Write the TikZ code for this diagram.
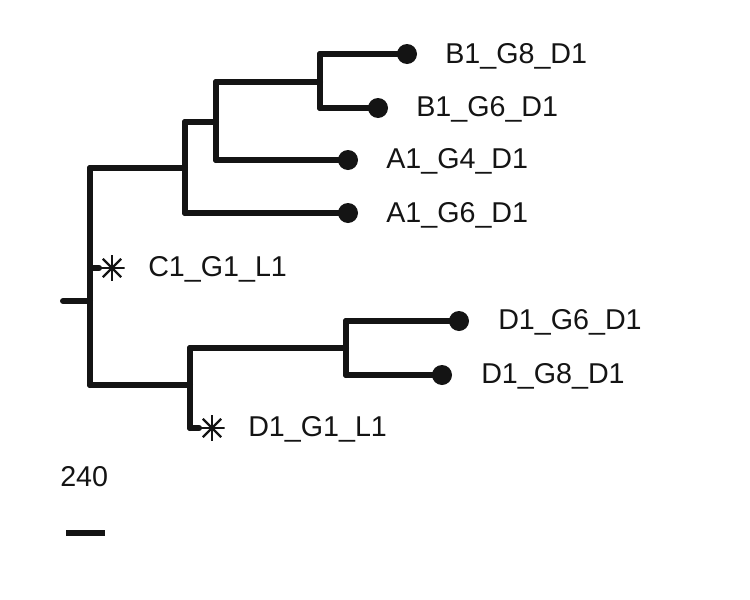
\documentclass[tikz,border=0pt]{standalone}
\usepackage{fontspec}
\setmainfont{Liberation Sans}
\begin{document}
\begin{tikzpicture}[x=0.75pt,y=-0.75pt,
  br/.style={line width=4.5pt,color=black!92,line join=round,line cap=round},
  leaf/.style={circle,fill=black!92,inner sep=0pt,minimum size=15pt},
  lbl/.style={anchor=west,inner sep=0pt,font=\fontsize{21.5pt}{24pt}\selectfont,text=black!92},
  starnode/.style={inner sep=0pt,minimum size=19pt,path picture={
     \foreach \a in {0,45,90,135}{\draw[line width=1.6pt,black!92] (path picture bounding box.center) ++(\a:9.75pt) -- ++(\a+180:19.5pt);}}}]
\useasboundingbox (0,0) rectangle (750,600);
% internal coordinates
\coordinate (r0) at (63,301);
\coordinate (r) at (90,301);
\coordinate (rt) at (90,168);
\coordinate (rb) at (90,385);
\coordinate (n1) at (185,168);
\coordinate (n1t) at (185,122);
\coordinate (n1b) at (185,213);
\coordinate (n2) at (216,122);
\coordinate (n2t) at (216,82);
\coordinate (n2b) at (216,160);
\coordinate (n3) at (320,82);
\coordinate (n3t) at (320,54);
\coordinate (n3b) at (320,108);
\coordinate (m1) at (190,385);
\coordinate (m1t) at (190,348);
\coordinate (m1b) at (190,428);
\coordinate (m2) at (346,348);
\coordinate (m2t) at (346,321);
\coordinate (m2b) at (346,375);
\coordinate (cc) at (90,268);
% leaves
\node[leaf] (B8) at (407,54) {};
\node[leaf] (B6) at (378,108) {};
\node[leaf] (A4) at (348,160) {};
\node[leaf] (A6) at (348,213) {};
\node[leaf] (D6) at (459,321) {};
\node[leaf] (D8) at (442,375) {};
\node[starnode] (C1) at (112,268) {};
\node[starnode] (D1) at (212,428) {};
% branches
\draw[br] (r0) -- (r);
\draw[br] (rt) -- (rb);
\draw[br] (rt) -- (n1);
\draw[br] (n1t) -- (n1b);
\draw[br] (n1b) -- (A6.center);
\draw[br] (n1t) -- (n2);
\draw[br] (n2t) -- (n2b);
\draw[br] (n2b) -- (A4.center);
\draw[br] (n2t) -- (n3);
\draw[br] (n3t) -- (n3b);
\draw[br] (n3t) -- (B8.center);
\draw[br] (n3b) -- (B6.center);
\draw[br] (cc) -- (C1.west);
\draw[br] (rb) -- (m1);
\draw[br] (m1t) -- (m1b);
\draw[br] (m1b) -- (D1.west);
\draw[br] (m1t) -- (m2);
\draw[br] (m2t) -- (m2b);
\draw[br] (m2t) -- (D6.center);
\draw[br] (m2b) -- (D8.center);
% labels
\node[lbl] (tB8) at (445,56) {B1\_G8\_D1};
\node[lbl] (tB6) at (416,109) {B1\_G6\_D1};
\node[lbl] (tA4) at (386,161) {A1\_G4\_D1};
\node[lbl] (tA6) at (386,215) {A1\_G6\_D1};
\node[lbl] (tC1) at (148,269) {C1\_G1\_L1};
\node[lbl] (tD6) at (498,322) {D1\_G6\_D1};
\node[lbl] (tD8) at (481,376) {D1\_G8\_D1};
\node[lbl] (tD1) at (248,429) {D1\_G1\_L1};
\node[lbl] (scl) at (60,477) {240};
\coordinate (sb0) at (66,533);
\coordinate (sb1) at (105,533);
\draw[line width=5.2pt,black!92] (sb0) -- (sb1);
\end{tikzpicture}
\end{document}
